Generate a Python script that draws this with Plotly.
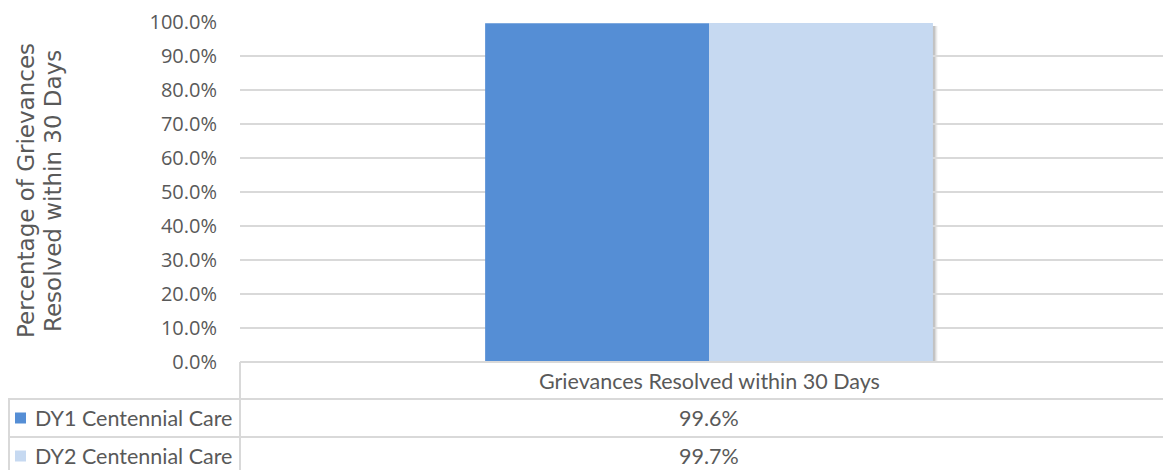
import plotly.graph_objects as go

categories = ["Grievances Resolved within 30 Days"]
series_names = ["DY1 Centennial Care", "DY2 Centennial Care"]
dy1_values = [0.996]
dy2_values = [0.997]
series_values = [dy1_values, dy2_values]
series_colors = ["#558ED5", "#C6D9F1"]
y_ticks = [i / 10 for i in range(11)]
y_title_lines = ["Percentage of Grievances", "Resolved within 30 Days"]

O = 8  # page body margin
W, H = 1171 - O, 470 - O
L, R, T = 240 - O, 0, 22 - O
plot_bottom = 362 - O
B = H - plot_bottom
plot_w = W - L - R
plot_h = H - T - B
TXT = "#595959"
GRID = "#D9D9D9"

fig = go.Figure()
for name, vals, col in zip(series_names, series_values, series_colors):
    fig.add_trace(go.Bar(x=categories, y=vals, name=name, marker_color=col,
                         marker_line_width=0, showlegend=False, hoverinfo="skip"))

x_range = [-0.5038, 0.4962]
bargap = 0.519
fig.update_layout(
    width=W, height=H, margin=dict(l=L, r=R, t=T, b=B),
    paper_bgcolor="white", plot_bgcolor="white",
    barmode="group", bargap=bargap, bargroupgap=0,
    xaxis=dict(range=x_range, showticklabels=False, showgrid=False, zeroline=False,
               showline=False, fixedrange=True),
    yaxis=dict(range=[0, 1.0], tickvals=y_ticks, tickformat=".1%",
               tickfont=dict(family="Open Sans", size=20, color=TXT),
               showgrid=True, gridcolor=GRID, gridwidth=2, zeroline=False,
               showline=False, ticklabelstandoff=22),
    font=dict(family="Open Sans", color=TXT),
)

# bar shadow (decorative), computed from bar geometry
group_w = 1 - bargap
x0 = -group_w / 2
x1 = group_w / 2
px = (x_range[1] - x_range[0]) / plot_w
py = 1.0 / plot_h
ytop = max(max(v) for v in series_values)
for i, a in enumerate([0.10, 0.07, 0.05, 0.03]):
    fig.add_shape(type="rect", xref="x", yref="y", layer="below",
                  x0=x0 + 2 * px, x1=x1 + (i + 2) * px,
                  y0=-(i + 1) * py, y1=ytop - 3 * py,
                  fillcolor=f"rgba(0,0,0,{a})", line_width=0)

# pixel helpers in reference page coordinates
def px_x(x):
    return (x - O - L) / plot_w

def px_y(y):
    return (plot_bottom - (y - O)) / plot_h

# y-axis title (two lines)
for line, xc in zip(y_title_lines, [26, 53]):
    fig.add_annotation(text=line, xref="paper", yref="paper", x=px_x(xc), y=px_y(191),
                       xanchor="center", yanchor="middle", textangle=-90, showarrow=False,
                       font=dict(family="DejaVu Sans", size=23, color=TXT))

# data table
row_bottom = 480
LINE = dict(color=GRID, width=2)
fig.add_shape(type="line", xref="paper", yref="paper", x0=px_x(240), x1=px_x(1180),
              y0=px_y(362), y1=px_y(362), line=LINE)
for yy in [399, 437]:
    fig.add_shape(type="line", xref="paper", yref="paper", x0=px_x(8), x1=px_x(1180),
                  y0=px_y(yy), y1=px_y(yy), line=LINE)
fig.add_shape(type="line", xref="paper", yref="paper", x0=px_x(240), x1=px_x(240),
              y0=px_y(362), y1=px_y(row_bottom), line=LINE)
fig.add_shape(type="line", xref="paper", yref="paper", x0=px_x(9), x1=px_x(9),
              y0=px_y(399), y1=px_y(row_bottom), line=LINE)

center_x = px_x(709)
TFONT = dict(family="Lato", size=21.5, color=TXT)
fig.add_annotation(text=categories[0], xref="paper", yref="paper", x=center_x, y=px_y(381),
                   xanchor="center", yanchor="middle", showarrow=False, font=TFONT)
row_centers = [418, 456]
for name, vals, col, yc in zip(series_names, series_values, series_colors, row_centers):
    fig.add_shape(type="rect", xref="paper", yref="paper", x0=px_x(15), x1=px_x(26),
                  y0=px_y(yc - 5.5), y1=px_y(yc + 5.5), fillcolor=col, line_width=0)
    fig.add_annotation(text=name, xref="paper", yref="paper", x=px_x(33), y=px_y(yc),
                       xanchor="left", yanchor="middle", showarrow=False, font=TFONT)
    fig.add_annotation(text=f"{vals[0]*100:.1f}%", xref="paper", yref="paper", x=center_x,
                       y=px_y(yc), xanchor="center", yanchor="middle", showarrow=False, font=TFONT)

fig.write_html("out.html")
